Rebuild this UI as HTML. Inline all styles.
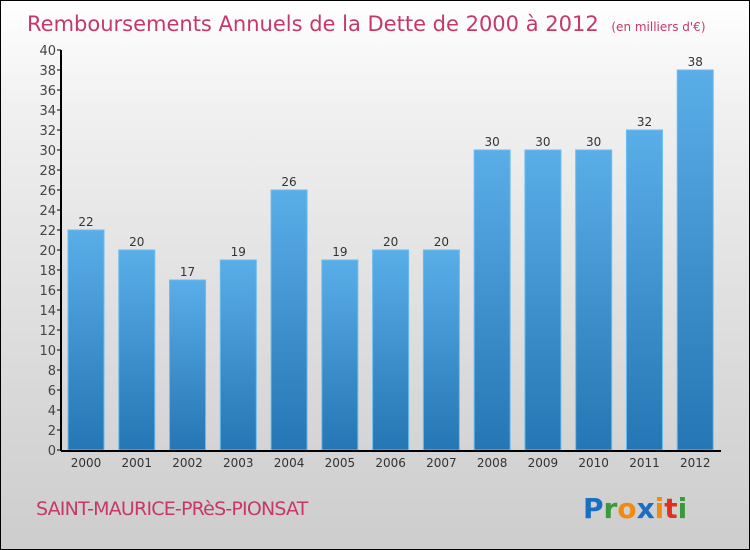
<!DOCTYPE html>
<html><head><meta charset="utf-8"><style>
body{margin:0}
#c{position:relative;width:748px;height:548px;border:1px solid #000;background:linear-gradient(#ffffff,#f0f0f0 20%,#d9d9d9 70%,#cdcdcd);font-family:"DejaVu Sans","Liberation Sans",sans-serif;overflow:hidden}
</style></head><body>
<div id="c">
<svg width="748" height="548">
<defs><linearGradient id="g" x1="0" y1="0" x2="0" y2="1"><stop offset="0" stop-color="#5aaee8"/><stop offset="1" stop-color="#2576b4"/></linearGradient></defs>
<text x="26" y="30" font-size="21" fill="#c8376a" font-family="DejaVu Sans">Remboursements Annuels de la Dette de 2000 à 2012 <tspan font-size="12" dx="6">(en milliers d'€)</tspan></text>
<g id="plot"></g>
<text x="35" y="514" font-size="19" fill="#c8376a" letter-spacing="-0.8">SAINT-MAURICE-PRèS-PIONSAT</text>
<g font-size="28" font-family="DejaVu Sans" font-weight="bold">
<text x="582" y="517"><tspan fill="#1a6fc2">P</tspan><tspan fill="#3a9a3a">r</tspan><tspan fill="#f08a10">o</tspan><tspan fill="#1a6fc2">x</tspan><tspan fill="#f08a10">i</tspan><tspan fill="#e03020">t</tspan><tspan fill="#3a9a3a">i</tspan></text></g>
</svg></div>
<script>
const years=["2000","2001","2002","2003","2004","2005","2006","2007","2008","2009","2010","2011","2012"];
const values=[22,20,17,19,26,19,20,20,30,30,30,32,38];
const yTicks=[0,2,4,6,8,10,12,14,16,18,20,22,24,26,28,30,32,34,36,38,40];
const NS="http://www.w3.org/2000/svg";
const g=document.getElementById('plot');
const x0=60,x1=720,y0=449,yTop=49,yMax=40;
const band=(x1-x0)/years.length;
const y=v=>y0-(y0-yTop)*v/yMax;
function mk(t,a){const e=document.createElementNS(NS,t);for(const k in a)e.setAttribute(k,a[k]);g.appendChild(e);return e;}
years.forEach((yr,i)=>{
 const bx=x0+i*band+7;
 const r=mk('rect',{x:bx,y:y(values[i]),width:36,height:y0-y(values[i]),fill:'url(#g)',stroke:'#6bbcf0','stroke-width':1});
 
 
 const t=mk('text',{x:bx+18,y:y(values[i])-4,'font-size':12,fill:'#333','text-anchor':'middle'});t.textContent=values[i];
 
 
 const l=mk('text',{x:bx+18,y:466,'font-size':12,fill:'#333','text-anchor':'middle'});l.textContent=yr;
 
 
});
yTicks.forEach(v=>{
 mk('line',{x1:x0-4,x2:x0,y1:y(v),y2:y(v),stroke:'#000'});
 const t=mk('text',{x:x0-5,y:y(v)+5,'font-size':13,fill:'#444','text-anchor':'end'});t.textContent=v;
 
 
});
const ya=mk('line',{x1:x0,x2:x0,y1:yTop,y2:y0+1,stroke:'#000','stroke-width':2});


const xa=mk('line',{x1:x0,x2:x1,y1:y0+1,y2:y0+1,stroke:'#000','stroke-width':2});


</script>
</body></html>
